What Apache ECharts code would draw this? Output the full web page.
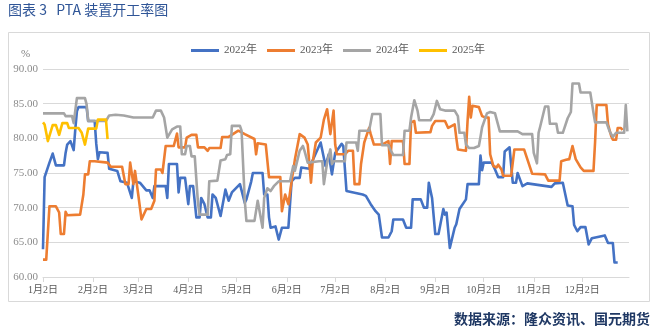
<!DOCTYPE html>
<html>
<head>
<meta charset="utf-8">
<script src="https://cdn.jsdelivr.net/npm/echarts@6/dist/echarts.min.js"></script>
<style>
  html, body { margin: 0; padding: 0; background: #fff; }
  #chart { width: 658px; height: 331px; }
</style>
</head>
<body>
<div id="chart"></div>
<script>
// PTA 装置开工率（%），按日历日对齐；点位为 [距 1月2日 的天数, 开工率]
const monthDays = [31, 28, 31, 30, 31, 30, 31, 31, 30, 31, 30, 31];
const seriesNames = ['2022年', '2023年', '2024年', '2025年'];
const yTicks = { min: 60, max: 90, step: 5 };

const rate2022 = [
  [0,64.0],[1,74.4],[4,76.5],[6,77.8],[7,77.8],[8,76.1],[13,76.1],[14,77.9],[15,79.1],[17,79.6],[18,79.6],
  [19,78.3],[20,81.3],[21,83.9],[22,84.5],[27,84.5],[28,82.5],[32,82.5],[33,79.2],[34,77.0],[35,78.0],
  [40,77.9],[41,75.6],[46,75.3],[48,73.8],[52,73.6],[53,72.9],[55,71.4],[56,73.8],[60,73.6],[64,72.5],
  [66,72.5],[68,71.4],[69,73.1],[76,73.1],[77,71.4],[78,76.3],[83,76.3],[84,72.2],[85,74.3],[88,74.3],
  [90,70.5],[91,73.1],[93,73.1],[95,68.6],[97,68.6],[98,71.4],[100,70.5],[102,68.6],[104,68.6],[105,71.9],
  [107,71.4],[110,68.8],[113,72.6],[115,71.0],[117,72.2],[122,73.4],[123,73.4],[125,70.7],[126,71.2],
  [129,73.8],[130,75.0],[136,75.0],[137,71.9],[139,71.9],[140,68.6],[141,67.1],[144,67.3],[146,65.4],
  [148,67.1],[152,67.1],[154,73.8],[156,74.3],[159,74.3],[160,75.8],[165,75.6],[167,76.8],[172,79.4],
  [175,76.0],[177,77.7],[179,74.8],[181,77.9],[182,77.9],[185,79.2],[186,78.9],[188,72.4],[198,71.9],
  [200,71.7],[203,70.5],[206,69.5],[208,69.0],[210,65.7],[214,65.7],[216,66.6],[217,68.3],[223,68.3],
  [225,67.1],[228,67.1],[229,71.2],[234,71.2],[236,70.0],[238,70.0],[239,73.6],[241,71.4],[243,66.2],
  [245,66.2],[248,69.8],[249,69.0],[250,69.3],[252,64.2],[255,67.1],[256,67.6],[258,69.8],[259,69.8],
  [262,71.2],[263,73.4],[270,73.4],[271,77.5],[272,75.4],[273,76.5],[278,76.5],[280,75.5],[282,74.4],
  [285,74.4],[286,78.1],[289,78.7],[290,78.7],[291,73.6],[293,73.6],[294,75.0],[297,73.1],[300,73.5],
  [315,73.0],[317,73.5],[322,73.6],[325,70.3],[328,70.2],[329,67.5],[331,66.6],[333,67.2],[336,67.2],
  [338,64.7],[340,65.6],[348,66.0],[350,64.9],[353,64.9],[354,62.1],[356,62.1]
];

const rate2023 = [
  [0,62.5],[2,62.5],[4,70.2],[8,70.2],[10,69.3],[11,66.2],[13,66.2],[14,69.4],[15,68.9],[23,69.0],
  [25,71.9],[26,74.8],[28,74.8],[29,76.7],[32,76.7],[40,76.5],[42,75.9],[49,75.9],[51,73.4],[53,73.4],
  [54,76.5],[56,73.4],[57,75.3],[59,71.9],[61,68.3],[64,69.8],[67,69.8],[69,71.0],[70,75.5],[73,75.5],
  [74,75.0],[76,78.9],[81,78.9],[83,80.7],[84,78.7],[88,78.7],[89,80.1],[92,80.5],[95,80.5],[96,78.7],
  [100,78.7],[102,78.2],[103,78.6],[110,78.6],[111,80.2],[115,80.2],[121,81.1],[125,80.6],[131,79.9],
  [132,77.7],[133,79.3],[138,79.1],[140,74.4],[147,74.4],[148,69.5],[150,71.9],[152,70.5],[154,73.8],
  [156,76.9],[159,80.6],[162,80.1],[164,79.1],[166,73.6],[167,76.5],[169,79.4],[172,80.1],[174,82.7],
  [176,84.2],[178,80.6],[180,84.0],[181,79.1],[182,77.7],[187,77.7],[189,78.2],[192,78.2],[193,73.4],
  [196,73.4],[197,76.3],[199,79.4],[200,79.3],[202,81.5],[203,80.6],[205,79.1],[210,79.1],[214,79.6],
  [215,76.3],[216,79.6],[223,79.6],[224,76.3],[227,76.3],[228,82.3],[230,82.5],[231,80.8],[240,80.9],
  [241,81.8],[243,82.5],[249,82.5],[251,81.5],[255,82.0],[256,80.1],[257,78.4],[258,78.2],[262,78.2],
  [263,82.5],[264,86.0],[265,83.0],[266,84.7],[270,84.5],[272,83.2],[274,83.0],[276,83.0],[277,77.7],
  [278,77.5],[279,76.0],[281,75.8],[282,76.2],[284,75.5],[285,74.6],[290,74.6],[292,78.4],[298,78.4],
  [303,74.9],[311,74.8],[313,73.9],[320,73.9],[321,76.7],[324,76.9],[326,77.0],[328,78.9],[330,77.0],
  [333,75.8],[335,75.3],[341,75.3],[342,79.5],[343,84.8],[349,84.8],[350,82.0],[352,80.3],[353,79.8],
  [355,79.8],[356,81.5],[358,81.5],[359,81.2]
];

const rate2024 = [
  [0,83.6],[13,83.6],[14,83.2],[18,83.2],[19,82.2],[20,82.2],[21,85.8],[26,85.8],[27,84.9],[28,82.5],
  [33,82.5],[39,82.5],[41,83.3],[45,83.4],[50,83.3],[56,83.0],[68,83.0],[70,84.0],[73,84.0],[75,83.0],
  [77,80.1],[80,81.3],[83,81.7],[85,81.7],[86,77.7],[88,77.7],[89,78.9],[91,78.9],[92,77.4],[94,77.4],
  [96,70.7],[97,69.0],[102,69.0],[103,73.8],[108,73.9],[110,76.8],[113,77.0],[114,77.6],[116,77.7],
  [117,81.8],[122,81.8],[123,81.1],[125,71.0],[126,68.1],[131,68.1],[133,71.0],[136,67.1],[137,71.4],
  [139,72.8],[141,72.4],[143,73.1],[146,73.8],[153,73.8],[155,76.0],[156,75.3],[159,78.2],[161,78.9],
  [162,78.2],[164,76.5],[171,76.7],[173,76.7],[174,73.4],[176,76.5],[178,78.4],[179,76.3],[180,76.7],
  [187,76.7],[188,79.4],[194,79.4],[195,78.2],[196,81.1],[202,81.1],[204,83.5],[209,83.5],[210,79.0],
  [214,79.0],[215,78.4],[217,77.6],[223,77.6],[224,81.1],[227,81.1],[228,83.0],[230,85.5],[232,84.0],
  [233,82.6],[240,82.6],[242,83.5],[243,83.6],[244,85.4],[246,84.2],[249,84.0],[255,84.0],[257,83.2],
  [258,80.8],[261,80.8],[262,79.1],[264,78.6],[267,78.6],[270,78.9],[271,80.2],[272,81.6],[275,83.6],
  [277,83.8],[280,83.6],[283,81.0],[294,81.0],[297,80.6],[303,80.6],[304,77.9],[306,76.4],[307,80.8],
  [308,81.7],[311,84.6],[313,84.6],[314,82.1],[318,82.1],[319,80.8],[322,80.8],[325,82.9],[327,83.8],
  [328,87.9],[332,87.9],[333,86.6],[339,86.6],[341,83.7],[342,82.3],[349,82.3],[351,81.0],[353,80.2],
  [355,80.8],[360,80.8],[361,84.8],[362,81.0]
];

const rate2025 = [
  [0,82.3],[1,82.0],[3,79.6],[6,81.9],[8,81.9],[10,80.5],[12,82.2],[15,82.2],[16,81.5],[22,81.5],
  [24,80.8],[26,79.1],[28,81.4],[33,81.4],[34,82.7],[39,82.7],[40,79.9]
];

// 横轴：1月2日 至 12月31日 的逐日类目
const categories = [];
monthDays.forEach((n, mi) => {
  for (let d = 1; d <= n; d++) {
    if (mi === 0 && d === 1) continue;
    categories.push((mi + 1) + '月' + d + '日');
  }
});
const isMonthMark = (idx, val) => val.split('月')[1] === '2日';

const colors = ['#4472C4', '#ED7D31', '#A5A5A5', '#FFC000'];
const rates = [rate2022, rate2023, rate2024, rate2025];
const serifFont = '"Liberation Serif", "Noto Sans CJK SC", serif';

const chart = echarts.init(document.getElementById('chart'), null, { renderer: 'canvas' });
chart.setOption({
  animation: false,
  backgroundColor: '#ffffff',
  color: colors,
  graphic: [
    { type: 'rect', shape: { x: 8.5, y: 32.5, width: 641, height: 269 },
      style: { fill: 'none', stroke: '#d9d9d9', lineWidth: 1 }, z: 0 },
    { type: 'text', left: 8, top: 3,
      style: { text: '图表 3   PTA 装置开工率图', fill: '#2f5597', font: '14px "Noto Sans CJK SC", sans-serif' } },
    { type: 'text', left: 21, top: 49,
      style: { text: '%', fill: '#7f7f7f', font: '11px ' + serifFont } },
    { type: 'text', right: 8, top: 312,
      style: { text: '数据来源：隆众资讯、国元期货', fill: '#1f3864', font: 'bold 14px "Noto Sans CJK SC", sans-serif' } }
  ],
  legend: {
    top: 40, left: 186,
    icon: 'rect', itemWidth: 28, itemHeight: 3, itemGap: 10,
    textStyle: { color: '#595959', fontSize: 11, fontFamily: serifFont },
    data: seriesNames
  },
  grid: { left: 43, right: 29, top: 69, bottom: 54 },
  xAxis: {
    type: 'category',
    data: categories,
    boundaryGap: false,
    axisLine: { lineStyle: { color: '#d9d9d9', width: 1 } },
    axisTick: { show: true, interval: isMonthMark, length: 5, lineStyle: { color: '#d9d9d9' } },
    axisLabel: { interval: isMonthMark, color: '#595959', fontSize: 10, fontFamily: serifFont, margin: 8 },
    splitLine: { show: false }
  },
  yAxis: {
    type: 'value',
    min: yTicks.min, max: yTicks.max, interval: yTicks.step,
    axisLine: { show: false },
    axisTick: { show: false },
    axisLabel: { color: '#8c8c8c', fontSize: 11, fontFamily: serifFont, margin: 5,
      formatter: v => v.toFixed(2) },
    splitLine: { lineStyle: { color: '#d9d9d9', width: 1 } }
  },
  series: seriesNames.map((name, i) => ({
    name: name,
    type: 'line',
    data: rates[i],
    showSymbol: false,
    symbol: 'none',
    lineStyle: { width: 2.6, color: colors[i], join: 'round' },
    itemStyle: { color: colors[i] },
    z: 2 + i
  }))
});
</script>
</body>
</html>
